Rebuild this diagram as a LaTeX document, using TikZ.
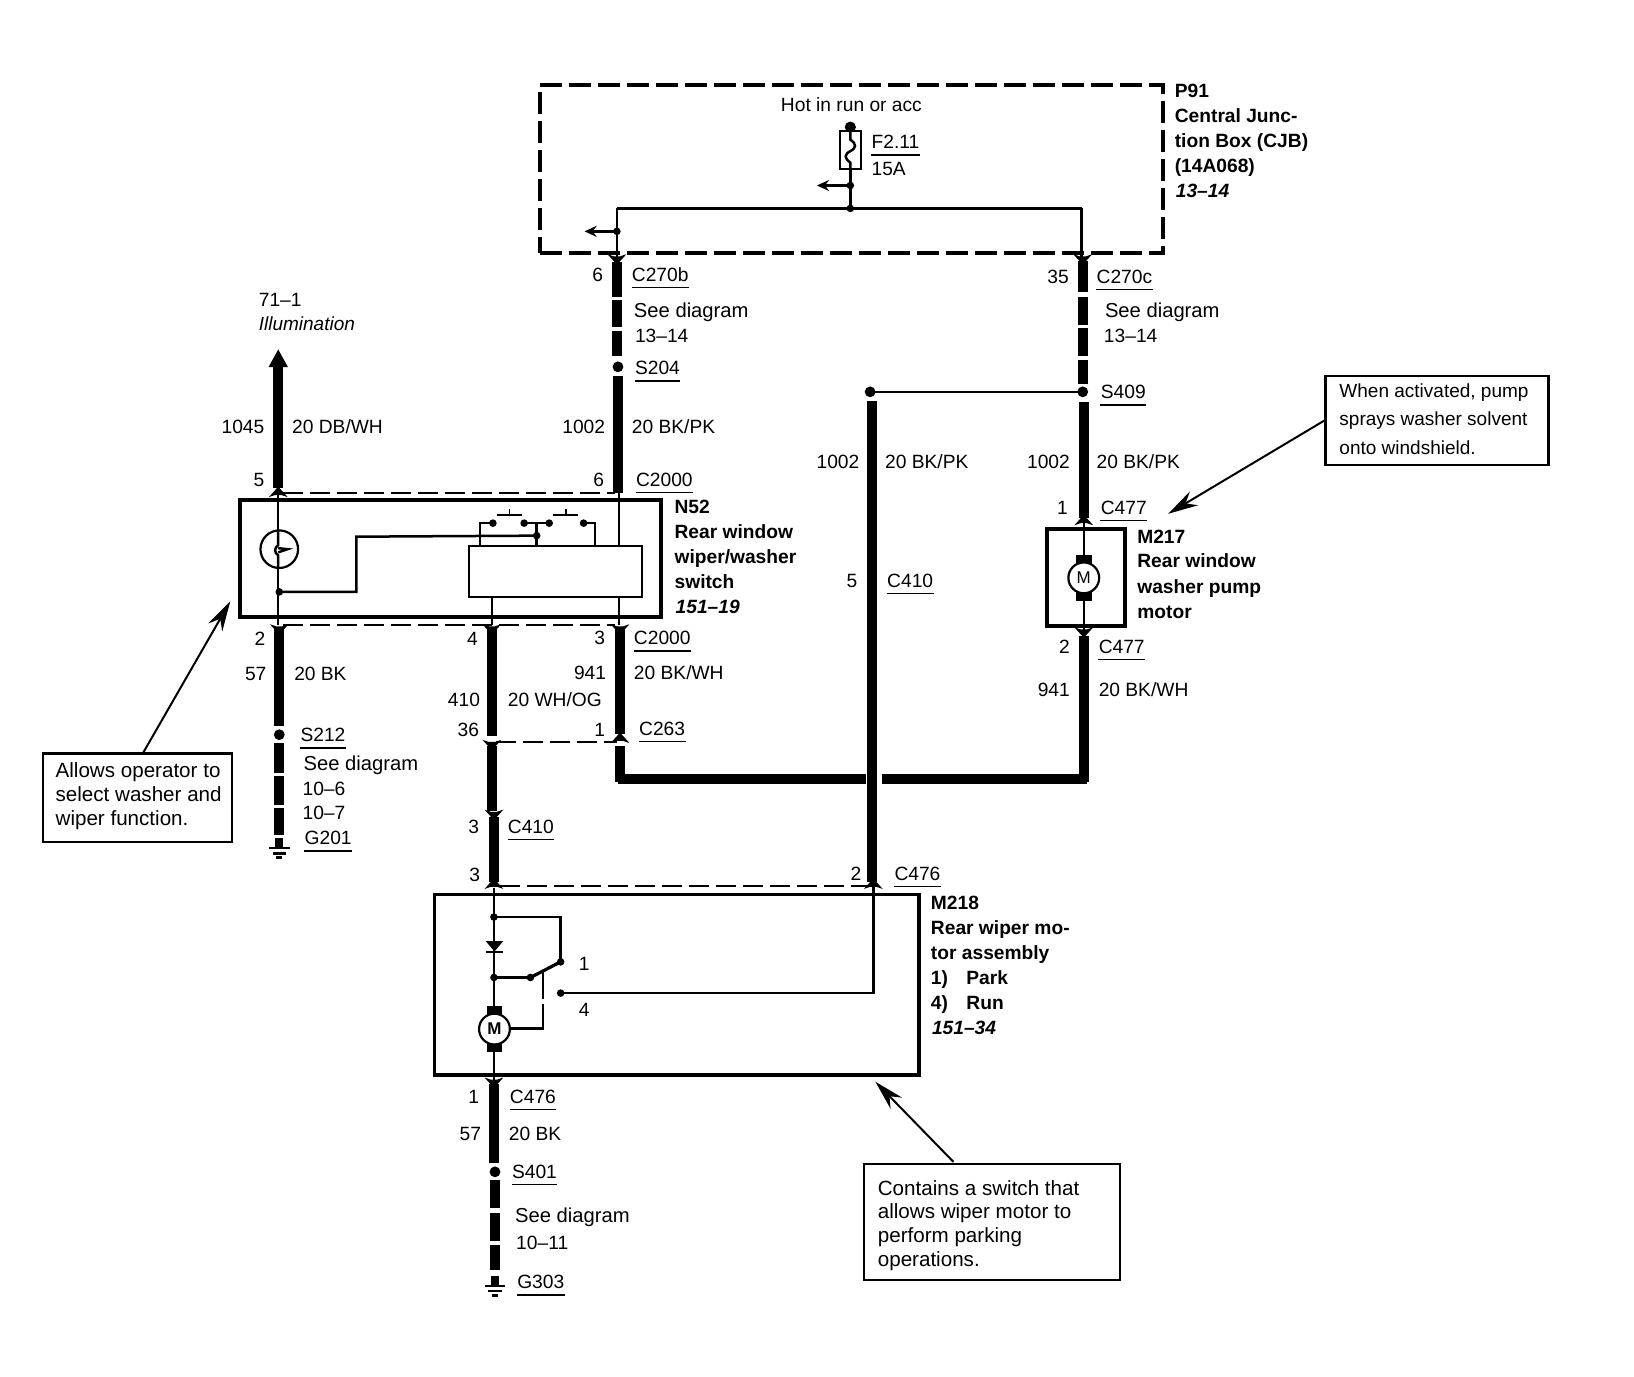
\documentclass[tikz,border=0pt]{standalone}
\usepackage{fontspec}
\setmainfont{Liberation Sans}
\usetikzlibrary{arrows.meta}
\tikzset{
  lbl/.style={inner sep=0pt,anchor=west,text height=7pt,text depth=0pt,font=\fontsize{9.6}{12}\selectfont},
  rlbl/.style={lbl,anchor=east},
  see/.style={lbl,font=\fontsize{10.1}{12}\selectfont},
  note/.style={lbl,font=\fontsize{10.3}{12}\selectfont},
  noter/.style={lbl,font=\fontsize{9.5}{12}\selectfont},
  hdr/.style={lbl,font=\fontsize{9.6}{12}\selectfont\bfseries},
  hdi/.style={lbl,font=\fontsize{9.6}{12}\selectfont\bfseries\itshape},
  ital/.style={lbl,font=\fontsize{9.5}{12}\selectfont\itshape},
  ul/.style={line width=0.65pt},
  wire/.style={line width=4.9pt},
  thin wire/.style={line width=1.25pt},
  box/.style={draw,line width=1.9pt,inner sep=0pt},
  inbox/.style={draw,line width=1.2pt,inner sep=0pt},
  callout/.style={draw,line width=1.1pt,inner sep=0pt},
  conn/.style={line width=1.1pt,dash pattern=on 10pt off 3.5pt},
  cjb/.style={draw,line width=1.9pt,dash pattern=on 11pt off 3.5pt},
  dot/.style={circle,fill=black,inner sep=0pt,minimum size=3.8pt},
  bigdot/.style={circle,fill=black,inner sep=0pt,minimum size=5.4pt},
  pointer/.style={line width=1pt,-{Stealth[length=15pt,width=8pt]}},
  stub/.style={line width=1.3pt,-{Stealth[length=6pt,width=5.5pt]}},
}
\newcommand{\pinup}[2]{\fill (#1-9,#2+2) -- (#1,#2-8) -- (#1+9,#2+2) -- (#1+3,#2) -- (#1-3,#2) -- cycle;}
\newcommand{\pindn}[2]{\fill (#1-9,#2-2) -- (#1,#2+8) -- (#1+9,#2-2) -- (#1+3,#2) -- (#1-3,#2) -- cycle;}
\newcommand{\gnd}[2]{% y = top of the stub
  \fill (#1-4,#2) rectangle (#1+4,#2+9);
  \draw[line width=1.2pt] (#1-10,#2+10) -- (#1+10,#2+10) (#1-6.5,#2+15) -- (#1+6.5,#2+15) (#1-3,#2+19) -- (#1+3,#2+19);}
\newcommand{\motor}[4]{% name x y font
  \fill (#2-7.5,#3-22) rectangle (#2+7.5,#3-12);
  \fill (#2-7.5,#3+12) rectangle (#2+7.5,#3+22);
  \node[circle,draw,fill=white,line width=1.1pt,minimum size=15.4pt,inner sep=0pt,font=\fontsize{8.5}{10}\selectfont#4] (#1) at (#2,#3) {M};}
\newcommand{\ulab}[4]{\node[lbl] (#1) at (#2,#3) {#4};
  \draw[ul] ([yshift=-6.6pt]#1.west) -- ([yshift=-6.6pt]#1.east);}
\begin{document}
\begin{tikzpicture}[x=0.52105pt,y=-0.52105pt]
\path[use as bounding box,fill=white] (0,0) rectangle (1568,1320.5);

% ---- boxes
\node[cjb,minimum width=311.6pt,minimum height=84pt,inner sep=0pt] (cjbx) at (817,162.5) {};
\node[box,minimum width=210.4pt,minimum height=58.4pt] (n52) at (432.5,536) {};
\node[inbox,minimum width=86.5pt,minimum height=25.6pt] (n52m) at (533,548.5) {};
\node[box,minimum width=39pt,minimum height=48.5pt] (m217) at (1042.5,554) {};
\node[box,minimum width=242.3pt,minimum height=90.2pt] (m218) at (649.5,945) {};
\node[callout,minimum width=111.5pt,minimum height=44.3pt] (c1) at (1379,403.5) {};
\node[callout,minimum width=94.8pt,minimum height=44.3pt] (c2) at (132,765.5) {};
\node[callout,minimum width=128.2pt,minimum height=57.8pt] (c3) at (952,1172.5) {};

% ---- named points
\coordinate (top) at (816,122);
\coordinate (j1) at (816,200);
\coordinate (j2) at (816,178);
\coordinate (j3) at (592,222);
\coordinate (jl) at (592,200);
\coordinate (jr) at (1038,200);
\coordinate (s204) at (593,352);
\coordinate (s409) at (1039,376);
\coordinate (s409b) at (835,376);
\coordinate (s212) at (268,705);
\coordinate (s401) at (475,1124.5);
\coordinate (jn) at (268,568);
\coordinate (js) at (515,514);
\coordinate (sa) at (473,502);
\coordinate (sb) at (503,502);
\coordinate (sc) at (527,502);
\coordinate (sd) at (560,502);
\coordinate (ma) at (474,880);
\coordinate (mb) at (474,938);
\coordinate (mc) at (509,938);
\coordinate (md) at (538,923);
\coordinate (me) at (538,953);
\coordinate (tipr) at (1121,493);
\coordinate (tipl) at (221,577);
\coordinate (tipb) at (840,1038);

% ---- fuse
\draw[thin wire] (816,122) -- (816,200);
\fill (816,122) circle (2.8pt);
\node[inbox,fill=white,minimum width=10.5pt,minimum height=19pt] (fuse) at (816,144) {};
\draw[thin wire] (816,126) -- (816,134) .. controls (822,138) and (822,142) .. (816,145) .. controls (810,148) and (810,152) .. (816,156) -- (816,162);
\draw[thin wire] (816,162) -- (j1);
\node[dot] (nj2) at (j2) {};
\node[dot] (nj1) at (j1) {};
\draw[stub] (j2) -- (784,178);
\draw[thin wire] (jl) -- (jr);
\draw[thin wire] (jl) -- (592,253);
\draw[thin wire] (jr) -- (1038,253);
\node[dot] (nj3) at (j3) {};
\draw[stub] (j3) -- (561,222);

% ---- vertical feeds
\draw[wire] (592,251) -- (592,285) (592,288) -- (592,314) (592,318) -- (592,342);
\pindn{592}{246}
\node[bigdot] (ns204) at (s204) {};
\draw[wire] (593,361) -- (593,473);
\draw[wire] (1039,250) -- (1039,280) (1039,285) -- (1039,312) (1039,315) -- (1039,342) (1039,345) -- (1039,368);
\pindn{1039}{246}
\node[bigdot] (ns409) at (s409) {};
\draw[thin wire] (s409) -- (s409b);
\node[bigdot] (ns409b) at (s409b) {};
\draw[wire] (1040,386) -- (1040,497);
\pinup{1040}{502}
\draw[thin wire] (1040,500) -- (1040,540) (1040,568) -- (1040,606);
\motor{m1}{1040}{554.5}{}
\pindn{1040}{604}
\draw[wire] (1040,610) -- (1040,750);

% ---- illumination
\draw[wire,-{Stealth[length=9pt,width=9pt,inset=0pt]}] (267,468) -- (267,335);
\pinup{267}{475}
\draw[thin wire] (267,473) -- (267,600);
\node[circle,draw,fill=white,line width=1.1pt,minimum size=18.8pt,inner sep=0pt] (lamp) at (268,527) {};
\draw[thin wire] (267,510) -- (267,523) .. controls (263,526) and (263,530) .. (267,533) -- (267,544);
\draw[thin wire] (267,526) -- (276,527) -- (267,530);
\node[dot] (njn) at (jn) {};
\draw[thin wire] (jn) -- (342,568) -- (342,515) -- (js);
\node[dot] (njs) at (js) {};

% ---- switches
\draw[thin wire] (460.5,524) -- (460.5,502) -- (sa);
\draw[thin wire] (sb) -- (sc);
\draw[thin wire] (js) -- (515,524);
\draw[thin wire] (515,502) -- (js);
\draw[thin wire] (sd) -- (571,502) -- (571,524);
\node[dot] at (sa) {};
\node[dot] at (sb) {};
\node[dot] at (sc) {};
\node[dot] at (sd) {};
\draw[line width=0.9pt] (477,494) -- (501,494) (489,494) -- (489,488);
\draw[line width=0.9pt] (531,494) -- (555,494) (543,494) -- (543,488);
\draw[thin wire] (594,473) -- (594,524);
\draw[thin wire] (594,573) -- (594,600);
\draw[thin wire] (472,573) -- (472,600);

% ---- connector dashes
\draw[conn] (272,473) -- (590,473);
\draw[conn] (272,600) -- (590,600);
\draw[conn] (476,712) -- (592,712);
\draw[conn] (480,850) -- (834,850);

% ---- lower wires
\pindn{268}{601}
\draw[wire] (268,604) -- (268,697);
\node[bigdot] (ns212) at (s212) {};
\draw[wire] (268,713) -- (268,742) (268,744.5) -- (268,772.5) (268,775) -- (268,801);
\gnd{268}{804}

\pindn{472}{601}
\draw[wire] (472,604) -- (472,706);
\pindn{472}{712}
\draw[wire] (472,716) -- (472,778);
\pindn{474}{779}
\draw[wire] (474,784) -- (474,846);
\pinup{474}{851}

\pindn{595}{601}
\draw[wire] (595,604) -- (595,704);
\pinup{595}{711}
\draw[wire] (595,716) -- (595,750);
\draw[wire] (593,747.5) -- (831,747.5) (846,747.5) -- (1043,747.5);

\draw[wire] (837,385) -- (837,846);
\pinup{838}{851}
\draw[thin wire] (838,850) -- (838,953) -- (me);

% ---- M218 internals
\draw[thin wire] (474,852) -- (474,965);
\node[dot] (nma) at (ma) {};
\node[dot] (nmb) at (mb) {};
\node[dot] (nmc) at (mc) {};
\node[dot] (nmd) at (md) {};
\node[dot] (nme) at (me) {};
\draw[thin wire] (ma) -- (538,880) -- (md);
\draw[thin wire] (mb) -- (mc);
\draw[line width=1.6pt] (mc) -- (md);
\draw[thin wire] (521,933) -- (521,959) (521,963) -- (521,987) -- (489,987);
\fill (466,903) -- (483,903) -- (474.5,913) -- cycle;
\draw[line width=1pt] (466,914) -- (483,914);
\motor{m2}{474.5}{987.5}{\bfseries}
\draw[thin wire] (474,1009) -- (474,1036);
\pindn{474}{1036}
\draw[wire] (474,1040) -- (474,1116);
\node[bigdot] (ns401) at (s401) {};
\draw[wire] (475,1132) -- (475,1159) (475,1164) -- (475,1191) (475,1195) -- (475,1219);
\gnd{475}{1224}

% ---- pointers
\draw[pointer] (c1.west) -- (tipr);
\draw[pointer] (137,723) -- (tipl);
\draw[pointer] (915,1115) -- (tipb);

% ---- labels: CJB
\node[lbl,anchor=center] (hot) at (817,100) {Hot in run or acc};
\ulab{f211}{836}{136}{F2.11}
\node[lbl] (f15) at (836,162) {15A};
\node[hdr] (p1) at (1127,87) {P91};
\node[hdr] (p2) at (1127,111) {Central Junc-};
\node[hdr] (p3) at (1127,135) {tion Box (CJB)};
\node[hdr] (p4) at (1127,159) {(14A068)};
\node[hdi] (p5) at (1128,183) {13–14};

\node[rlbl] (a1) at (579,263) {6};
\ulab{a2}{606}{263}{C270b}
\node[see] (a3) at (608,298) {See diagram};
\node[lbl] (a4) at (609,322) {13–14};
\ulab{a5}{609}{353}{S204}
\node[rlbl] (a6) at (581,409) {1002};
\node[lbl] (a7) at (606,409) {20 BK/PK};
\node[rlbl] (a8) at (580,460) {6};
\ulab{a9}{610}{460}{C2000}

\node[rlbl] (b1) at (1026,265) {35};
\ulab{b2}{1052}{265}{C270c}
\node[see] (b3) at (1060,298) {See diagram};
\node[lbl] (b4) at (1059,322) {13–14};
\ulab{b5}{1056}{376}{S409}
\node[rlbl] (b6) at (1027,443) {1002};
\node[lbl] (b7) at (1052,443) {20 BK/PK};
\node[rlbl] (b8) at (1025,487) {1};
\ulab{b9}{1056}{487}{C477}
\node[hdr] (m1a) at (1091,515) {M217};
\node[hdr] (m1b) at (1091,538) {Rear window};
\node[hdr] (m1c) at (1091,563) {washer pump};
\node[hdr] (m1d) at (1091,587) {motor};
\node[rlbl] (b10) at (1027,620) {2};
\ulab{b11}{1054}{620}{C477}
\node[rlbl] (b12) at (1027,662) {941};
\node[lbl] (b13) at (1054,662) {20 BK/WH};

\node[rlbl] (d1) at (825,443) {1002};
\node[lbl] (d2) at (849,443) {20 BK/PK};
\node[rlbl] (d3) at (823,557) {5};
\ulab{d4}{851}{557}{C410}

\node[lbl] (e1) at (248,287) {71–1};
\node[ital] (e2) at (248,310) {Illumination};
\node[rlbl] (e3) at (254,409) {1045};
\node[lbl] (e4) at (280,409) {20 DB/WH};
\node[rlbl] (e5) at (254,460) {5};

\node[hdr] (n1) at (647,486) {N52};
\node[hdr] (n2) at (647,510) {Rear window};
\node[hdr] (n3) at (647,534) {wiper/washer};
\node[hdr] (n4) at (647,558) {switch};
\node[hdi] (n5) at (648,582) {151–19};

\node[rlbl] (g1) at (255,613) {2};
\node[rlbl] (g2) at (256,646) {57};
\node[lbl] (g3) at (282,646) {20 BK};
\ulab{g4}{288}{705}{S212}
\node[see] (g5) at (291,733) {See diagram};
\node[lbl] (g6) at (290,757) {10–6};
\node[lbl] (g7) at (290,780) {10–7};
\ulab{g8}{292}{804}{G201}

\node[rlbl] (h1) at (459,613) {4};
\node[rlbl] (h2) at (581,612) {3};
\ulab{h3}{608}{612}{C2000}
\node[rlbl] (h4) at (582,645) {941};
\node[lbl] (h5) at (608,645) {20 BK/WH};
\node[rlbl] (h6) at (461,671) {410};
\node[lbl] (h7) at (487,671) {20 WH/OG};
\node[rlbl] (h8) at (460,700) {36};
\node[rlbl] (h9) at (581,700) {1};
\ulab{h10}{613}{699}{C263}
\node[rlbl] (h11) at (460,793) {3};
\ulab{h12}{487}{793}{C410}
\node[rlbl] (h13) at (461,839) {3};
\node[rlbl] (h14) at (827,838) {2};
\ulab{h15}{858}{838}{C476}

\node[hdr] (k1) at (893,866) {M218};
\node[hdr] (k2) at (893,890) {Rear wiper mo-};
\node[hdr] (k3) at (893,914) {tor assembly};
\node[hdr] (k4) at (893,938) {1)};
\node[hdr] (k4b) at (927,938) {Park};
\node[hdr] (k5) at (893,962) {4)};
\node[hdr] (k5b) at (927,962) {Run};
\node[hdi] (k6) at (894,986) {151–34};
\node[lbl] (k7) at (555,925) {1};
\node[lbl] (k8) at (555,969) {4};

\node[rlbl] (q1) at (460,1052) {1};
\ulab{q2}{489}{1052}{C476}
\node[rlbl] (q3) at (462,1088) {57};
\node[lbl] (q4) at (488,1088) {20 BK};
\ulab{q5}{491}{1124}{S401}
\node[see] (q6) at (494,1166) {See diagram};
\node[lbl] (q7) at (495,1192) {10–11};
\ulab{q8}{496}{1230}{G303}

% ---- callout texts
\node[noter] (r1) at (1285,375) {When activated, pump};
\node[noter] (r2) at (1285,402) {sprays washer solvent};
\node[noter] (r3) at (1285,429) {onto windshield.};
\node[note] (s1) at (53,739) {Allows operator to};
\node[note] (s2) at (53,762) {select washer and};
\node[note] (s3) at (53,785) {wiper function.};
\node[note] (t1) at (842,1140) {Contains a switch that};
\node[note] (t2) at (842,1163) {allows wiper motor to};
\node[note] (t3) at (842,1186) {perform parking};
\node[note] (t4) at (842,1209) {operations.};
\end{tikzpicture}
\end{document}
